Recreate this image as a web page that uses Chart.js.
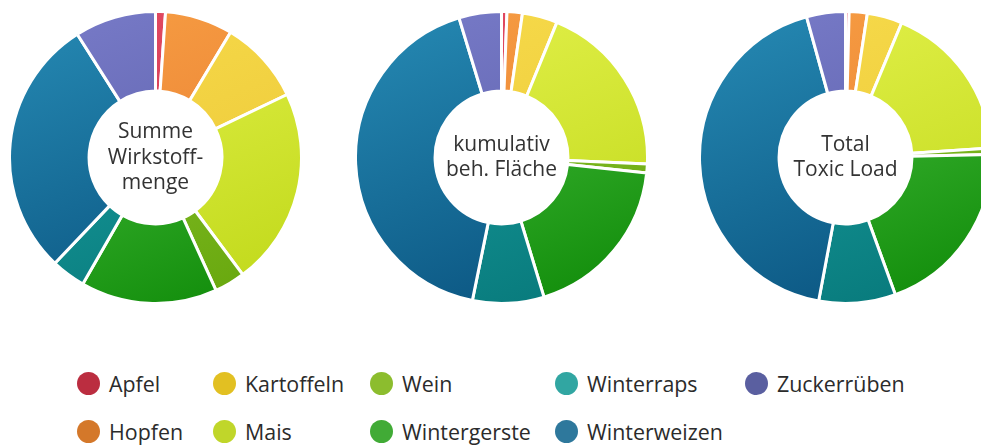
<!DOCTYPE html>
<html lang="de">
<head>
<meta charset="utf-8">
<script src="https://cdn.jsdelivr.net/npm/chart.js@4.4.1/dist/chart.umd.min.js"></script>
<style>
  html, body { margin: 0; padding: 0; background: #fff; }
  body { width: 981px; height: 446px; overflow: hidden; position: relative; font-family: "Open Sans", sans-serif; }
  .pie { position: absolute; top: 10px; width: 295px; height: 295px; }
  .legend-item { position: absolute; height: 24px; line-height: 24px; font-size: 21.4px; color: #2b2b2b; white-space: nowrap; }
  .legend-item .dot { display: inline-block; width: 23px; height: 23px; border-radius: 50%; vertical-align: top; margin-right: 9px; }
</style>
</head>
<body>
<canvas id="c1" class="pie" width="295" height="295" style="left:8px"></canvas>
<canvas id="c2" class="pie" width="295" height="295" style="left:354px"></canvas>
<canvas id="c3" class="pie" width="295" height="295" style="left:698px"></canvas>
<div id="legend"></div>
<script>
// Kulturen (Reihenfolge im Uhrzeigersinn ab 12 Uhr)
const categories = ['Apfel', 'Hopfen', 'Kartoffeln', 'Mais', 'Wein', 'Wintergerste', 'Winterraps', 'Winterweizen', 'Zuckerrüben'];

// Anteile in % je Kennzahl
const wirkstoffmenge = [1.1, 7.5, 9.3, 21.9, 3.4, 15.1, 3.8, 28.9, 9.0];
const behFlaeche     = [0.6, 1.7, 3.9, 19.5, 1.0, 18.6, 7.9, 42.1, 4.7];
const toxicLoad      = [0.4, 2.0, 3.9, 17.7, 0.7, 19.8, 8.5, 42.8, 4.3];

// Texte in der Mitte
const centerLabels = [
    ['Summe', 'Wirkstoff-', 'menge'],
    ['kumulativ', 'beh. Fläche'],
    ['Total', 'Toxic Load']
];

// Farben: Legende (flach) und Segmente (Verlauf hell -> dunkel)
const legendColors = ['#bb2d40', '#d4782a', '#e2c022', '#c0d62a', '#8cbd2e', '#41ab36', '#31a6a2', '#2e789c', '#5a5fa0'];
const lightColors  = ['#e24a62', '#f69c42', '#f6da4a', '#e2f04a', '#90c632', '#4cc242', '#1ca2a2', '#2486b0', '#7679c6'];
const darkColors   = ['#c8304a', '#e87c32', '#ecc636', '#c2da1c', '#68a80e', '#138e0c', '#087a7c', '#0a5480', '#585ca6'];

function segmentColor(ctx) {
    const i = ctx.dataIndex;
    const chart = ctx.chart;
    const area = chart.chartArea;
    if (!area) return lightColors[i];
    const g = chart.ctx.createLinearGradient(
        area.left + area.width * 0.3, area.top,
        area.right - area.width * 0.3, area.bottom);
    g.addColorStop(0, lightColors[i]);
    g.addColorStop(1, darkColors[i]);
    return g;
}

// Plugin für den Text im Loch
const centerText = {
    id: 'centerText',
    afterDraw(chart, args, opts) {
        const lines = opts.lines || [];
        const meta = chart.getDatasetMeta(0);
        if (!meta.data.length) return;
        const cx = meta.data[0].x;
        const cy = meta.data[0].y;
        const c = chart.ctx;
        const lh = 25.5;
        c.save();
        c.font = '21px "Open Sans"';
        c.fillStyle = '#333';
        c.textAlign = 'center';
        c.textBaseline = 'alphabetic';
        const first = cy + 6 - (lines.length - 1) * lh / 2;
        lines.forEach((t, k) => c.fillText(t, cx, first + k * lh));
        c.restore();
    }
};

function makeDoughnut(id, values, lines) {
    return new Chart(document.getElementById(id), {
        type: 'doughnut',
        data: {
            labels: categories,
            datasets: [{
                data: values,
                backgroundColor: segmentColor,
                borderColor: '#ffffff',
                borderWidth: 3
            }]
        },
        options: {
            responsive: false,
            animation: false,
            cutout: '45.5%',
            layout: { padding: 0 },
            plugins: {
                legend: { display: false },
                tooltip: { enabled: false },
                centerText: { lines: lines }
            }
        },
        plugins: [centerText]
    });
}

makeDoughnut('c1', wirkstoffmenge, centerLabels[0]);
makeDoughnut('c2', behFlaeche, centerLabels[1]);
makeDoughnut('c3', toxicLoad, centerLabels[2]);

// Legende: spaltenweise, zwei Zeilen
const legendCols = [77, 213, 370, 555, 745];
const legendRows = [372, 420];
const legend = document.getElementById('legend');
categories.forEach((name, i) => {
    const item = document.createElement('div');
    item.className = 'legend-item';
    item.style.left = legendCols[Math.floor(i / 2)] + 'px';
    item.style.top = legendRows[i % 2] + 'px';
    item.innerHTML = '<span class="dot" style="background:' + legendColors[i] + '"></span>' + name;
    legend.appendChild(item);
});
</script>
</body>
</html>
